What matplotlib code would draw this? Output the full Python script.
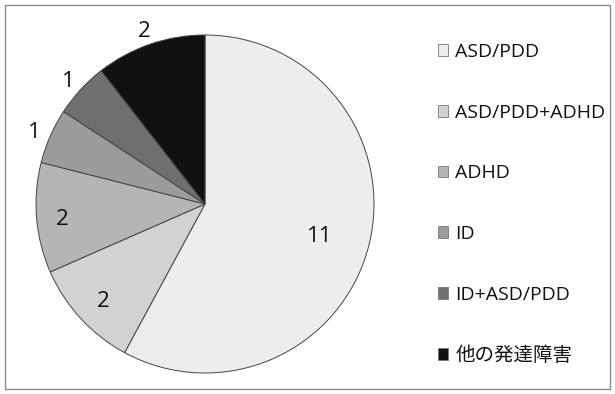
import matplotlib.pyplot as plt
from matplotlib.patches import Rectangle
import numpy as np

plt.rcParams['font.family'] = ['Open Sans', 'Noto Sans CJK JP', 'DejaVu Sans']

categories = ["ASD/PDD", "ASD/PDD+ADHD", "ADHD", "ID", "ID+ASD/PDD", "他の発達障害"]
counts = [11, 2, 2, 1, 1, 2]
colors = ["#ededed", "#d2d2d2", "#b5b5b5", "#9b9b9b", "#6f6f6f", "#111111"]
# how far from the centre each number sits (1.0 = rim)
label_dist = [0.70, 0.82, 0.85, 1.10, 1.10, 1.10]

fig = plt.figure(figsize=(6.15, 3.94), dpi=100)
fig.patches.append(Rectangle((0.008, 0.013), 0.984, 0.975, transform=fig.transFigure,
                             fill=False, edgecolor="#8a8a8a", linewidth=1.0))

ax = fig.add_axes([36 / 615, 21 / 394, 338 / 615, 338 / 394])
wedges, _ = ax.pie(counts, colors=colors, startangle=90, counterclock=False,
                   radius=1.0, wedgeprops=dict(edgecolor="#444444", linewidth=0.7))
ax.set_xlim(-1, 1)
ax.set_ylim(-1, 1)
ax.set_aspect("equal")
ax.axis("off")

for w, n, d in zip(wedges, counts, label_dist):
    mid = np.deg2rad((w.theta1 + w.theta2) / 2)
    ax.text(d * np.cos(mid), d * np.sin(mid) - 0.02, str(n), ha="center", va="center",
            fontsize=16, color="#111111", clip_on=False)

handles = [Rectangle((0, 0), 1, 1, facecolor=c, edgecolor="#777777", linewidth=0.6)
           for c in colors]
fig.legend(handles, categories, loc="upper left", bbox_to_anchor=(430 / 615, 1 - 35 / 394),
           frameon=False, fontsize=14, handlelength=0.55, handleheight=0.55,
           handletextpad=0.35, labelspacing=2.2, borderaxespad=0,
           labelcolor="#111111")

fig.savefig("out.png", dpi=100)
